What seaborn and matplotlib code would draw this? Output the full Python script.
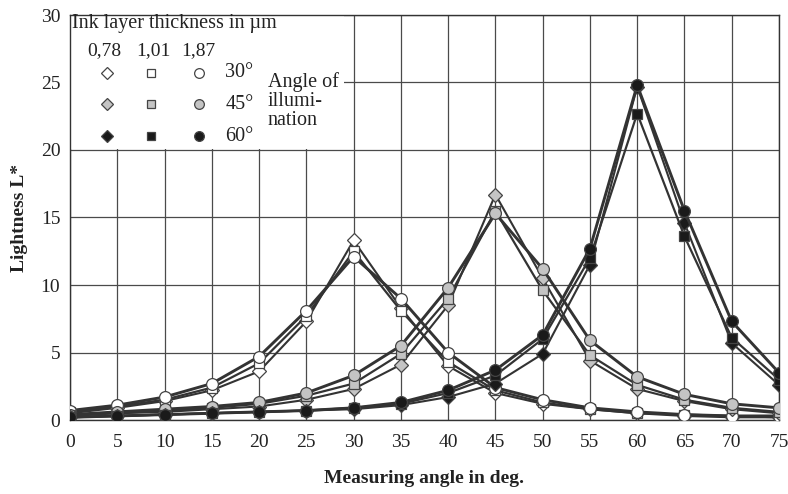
import matplotlib
matplotlib.use("Agg")
import matplotlib.pyplot as plt
import seaborn as sns
import pandas as pd
from matplotlib.patches import Rectangle

# ---- data ----
angles = [0, 5, 10, 15, 20, 25, 30, 35, 40, 45, 50, 55, 60, 65, 70, 75]

# illumination 30 deg
d30 = [0.5, 0.9, 1.4, 2.2, 3.6, 7.3, 13.3, 8.3, 4.0, 2.0, 1.2, 0.8, 0.5, 0.3, 0.2, 0.2]
s30 = [0.6, 1.0, 1.5, 2.4, 4.2, 7.7, 12.5, 8.1, 4.3, 2.2, 1.3, 0.8, 0.5, 0.4, 0.3, 0.2]
c30 = [0.7, 1.1, 1.7, 2.7, 4.7, 8.1, 12.1, 9.0, 5.0, 2.4, 1.5, 0.9, 0.6, 0.4, 0.3, 0.3]
# illumination 45 deg
d45 = [0.3, 0.5, 0.6, 0.8, 1.0, 1.5, 2.3, 4.1, 8.5, 16.7, 10.5, 4.4, 2.3, 1.4, 0.8, 0.5]
s45 = [0.4, 0.5, 0.7, 0.9, 1.2, 1.8, 2.7, 4.9, 9.0, 15.5, 9.6, 4.8, 2.6, 1.5, 0.9, 0.6]
c45 = [0.4, 0.6, 0.8, 1.0, 1.3, 2.0, 3.3, 5.5, 9.8, 15.3, 11.2, 5.9, 3.2, 1.9, 1.2, 0.9]
# illumination 60 deg
d60 = [0.2, 0.3, 0.4, 0.5, 0.6, 0.7, 0.8, 1.1, 1.7, 2.7, 4.9, 11.5, 24.7, 14.6, 5.7, 2.6]
s60 = [0.2, 0.3, 0.4, 0.5, 0.6, 0.7, 0.9, 1.2, 2.0, 3.3, 6.0, 12.0, 22.7, 13.6, 6.1, 3.0]
c60 = [0.2, 0.3, 0.4, 0.5, 0.6, 0.7, 0.9, 1.3, 2.2, 3.7, 6.3, 12.7, 24.8, 15.5, 7.3, 3.5]

thickness_labels = ["0,78", "1,01", "1,87"]
illum_labels = ["30°", "45°", "60°"]
title_text = "Ink layer thickness in µm"
angle_text = "Angle of\nillumi-\nnation"
xlabel = "Measuring angle in deg."
ylabel = "Lightness L*"

series = [
    (d30, "D", "white"), (s30, "s", "white"), (c30, "o", "white"),
    (d45, "D", "#c4c4c4"), (s45, "s", "#c4c4c4"), (c45, "o", "#c4c4c4"),
    (d60, "D", "#1a1a1a"), (s60, "s", "#1a1a1a"), (c60, "o", "#1a1a1a"),
]

sns.set_theme(style="white")
plt.rcParams["font.family"] = ["Liberation Serif", "DejaVu Serif"]

fig = plt.figure(figsize=(7.88, 4.94), dpi=100)
ax = fig.add_axes([70 / 788, 74 / 494, 709 / 788, 405 / 494])

line_col = "#333333"
edge_col = "#444444"
msize = {"D": 7.0, "s": 7.0, "o": 8.5}
leg_size = {"D": 6.0, "s": 6.0, "o": 7.0}
lw = {"D": 1.5, "s": 1.6, "o": 2.1}

for vals, mk, fc in series:
    df = pd.DataFrame({"angle": angles, "L": vals})
    sns.lineplot(data=df, x="angle", y="L", ax=ax, color=line_col,
                 linewidth=lw[mk], marker=mk, markersize=msize[mk],
                 markerfacecolor=fc, markeredgecolor=edge_col,
                 markeredgewidth=0.9, zorder=3)

ax.set_xlim(0, 75)
ax.set_ylim(0, 30)
ax.set_xticks(range(0, 76, 5))
ax.set_yticks(range(0, 31, 5))
ax.grid(True, color="#4a4a4a", linewidth=0.9)
ax.set_axisbelow(True)
for sp in ax.spines.values():
    sp.set_color("#333333")
    sp.set_linewidth(1.0)
ax.tick_params(axis="both", which="major", direction="out", length=4,
               width=0.8, color="#333333", labelsize=14, labelcolor="#222222",
               pad=3)
ax.tick_params(axis="x", pad=6)

ax.set_xlabel(xlabel, fontsize=14, fontweight="bold", color="#222222",
              labelpad=14)
ax.set_ylabel(ylabel, fontsize=14, fontweight="bold", color="#222222",
              labelpad=9)

# ---- legend block ----
ax.add_patch(Rectangle((0.0015, 0.668), 0.385, 0.33, transform=ax.transAxes,
                       facecolor="white", edgecolor="none", zorder=2.5))
ax.text(0.003, 0.980, title_text, transform=ax.transAxes, ha="left",
        va="center", fontsize=14.5, color="#222222", zorder=4)
col_x = [0.052, 0.114, 0.182]
lab_x = [0.049, 0.117, 0.181]
row_y = [0.857, 0.780, 0.701]
for lx, t in zip(lab_x, thickness_labels):
    ax.text(lx, 0.912, t, transform=ax.transAxes, ha="center", va="center",
            fontsize=14, color="#222222", zorder=4)
fills = ["white", "#c4c4c4", "#1a1a1a"]
marks = ["D", "s", "o"]
for ry, fc, lab in zip(row_y, fills, illum_labels):
    for cx, mk in zip(col_x, marks):
        ax.plot([cx], [ry], transform=ax.transAxes, marker=mk,
                markersize=leg_size[mk], markerfacecolor=fc,
                markeredgecolor=edge_col, markeredgewidth=0.9,
                linestyle="none", zorder=4, clip_on=False)
    ax.text(0.219, ry, lab, transform=ax.transAxes, ha="left", va="center",
            fontsize=14.5, color="#222222", zorder=4)
ax.text(0.279, 0.787, angle_text, transform=ax.transAxes, ha="left",
        va="center", fontsize=14.5, color="#222222", linespacing=1.0, zorder=4)

fig.savefig("out.png", dpi=100)
